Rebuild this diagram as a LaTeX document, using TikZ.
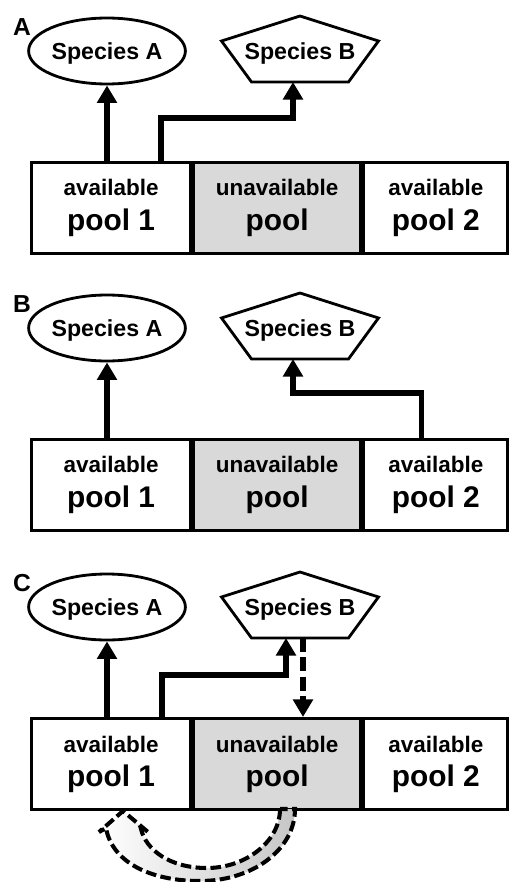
\documentclass[tikz,border=0pt]{standalone}
\usepackage{fontspec}
\setmainfont{Liberation Sans}
\usetikzlibrary{positioning,shapes.geometric,arrows.meta}

\definecolor{unavgray}{gray}{0.85}
\newcommand{\smalltxt}{\fontsize{12.8}{15}\selectfont}
\newcommand{\bigtxt}{\fontsize{17}{19.5}\selectfont}

\tikzset{
  pool/.style={draw, line width=1.8pt, minimum height=1.82cm, inner sep=0pt, align=center, font=\bfseries\bigtxt},
  specA/.style={draw, ellipse, line width=1.6pt, minimum width=2.78cm, minimum height=1.32cm, inner sep=0pt, text depth=0pt, font=\bfseries\fontsize{13.2}{15}\selectfont},
  specB/.style={minimum width=3.14cm, minimum height=1.32cm, inner sep=0pt, outer sep=0pt, text depth=0pt, font=\bfseries\fontsize{13.2}{15}\selectfont},
  penta/.style={draw, line width=1.6pt, line join=miter},
  arr/.style={line width=3pt, -{Triangle[length=10pt,width=11pt]}},
  dasharr/.style={arr, dash pattern=on 8pt off 3pt},
  dashflow/.style={line width=2.3pt, dash pattern=on 6pt off 2.5pt, line join=miter},
  panel/.style={font=\bfseries\fontsize{14}{16}\selectfont}
}

\begin{document}
\begin{tikzpicture}[x=0.02cm, y=-0.02cm]
        \useasboundingbox (0,0) rectangle (511,882);

        % Pannelli
        \foreach \p/\ty/\lab in {a/161/A, b/438/B, c/717/C} {
            \node[panel] (\p-lbl) at (22,\ty-134) {\lab};
            \node[specA] (\p-spA) at (107,\ty-110) {Species A};
            \node[specB] (\p-spB) at (300,\ty-110) {Species B};
            \draw[penta] ([yshift=0.04cm]\p-spB.north) -- ([yshift=-0.46cm]\p-spB.north east) -- ([xshift=-0.6cm,yshift=0.04cm]\p-spB.south east)
                -- ([xshift=0.6cm,yshift=0.04cm]\p-spB.south west) -- ([yshift=-0.46cm]\p-spB.north west) -- cycle;
            \node[pool, anchor=north west, minimum width=3.18cm] (\p-pool1) at (30,\ty) {{\smalltxt available}\\pool 1};
            \node[pool, fill=unavgray, minimum width=3.34cm, right=0pt of \p-pool1] (\p-unav) {{\smalltxt unavailable}\\pool};
            \node[pool, minimum width=2.88cm, right=0pt of \p-unav] (\p-pool2) {{\smalltxt available}\\pool 2};
            \draw[arr] (\p-pool1.north -| \p-spA.south) -- (\p-spA.south);
        }

        % A
        \draw[arr] ([xshift=1cm]a-pool1.north) -- ++(0,-43) -| ([xshift=-0.14cm,yshift=0.04cm]a-spB.south);

        % B
        \draw[arr] ([xshift=-0.28cm]b-pool2.north) -- ++(0,-45) -| ([xshift=-0.14cm,yshift=0.04cm]b-spB.south);

        % C
        \draw[arr] ([xshift=1.02cm]c-pool1.north) -- ++(0,-42) -| ([xshift=-0.28cm,yshift=0.04cm]c-spB.south);
        \draw[dasharr] ([xshift=0.06cm,yshift=0.04cm]c-spB.south) -- ([xshift=0.06cm]c-spB.south |- c-unav.north);
        \draw[dashflow, left color=white, middle color=white, right color=gray!45]
            (280,809) .. controls (280,842) and (245,868) .. (207,868)
            .. controls (170,868) and (146,850) .. (141,829)
            -- (148,832) -- (123,811) -- (99,832) -- (106,828)
            .. controls (112,862) and (150,881) .. (200,881)
            .. controls (252,881) and (295,850) .. (295,809) -- cycle;

    \end{tikzpicture}
\end{document}
